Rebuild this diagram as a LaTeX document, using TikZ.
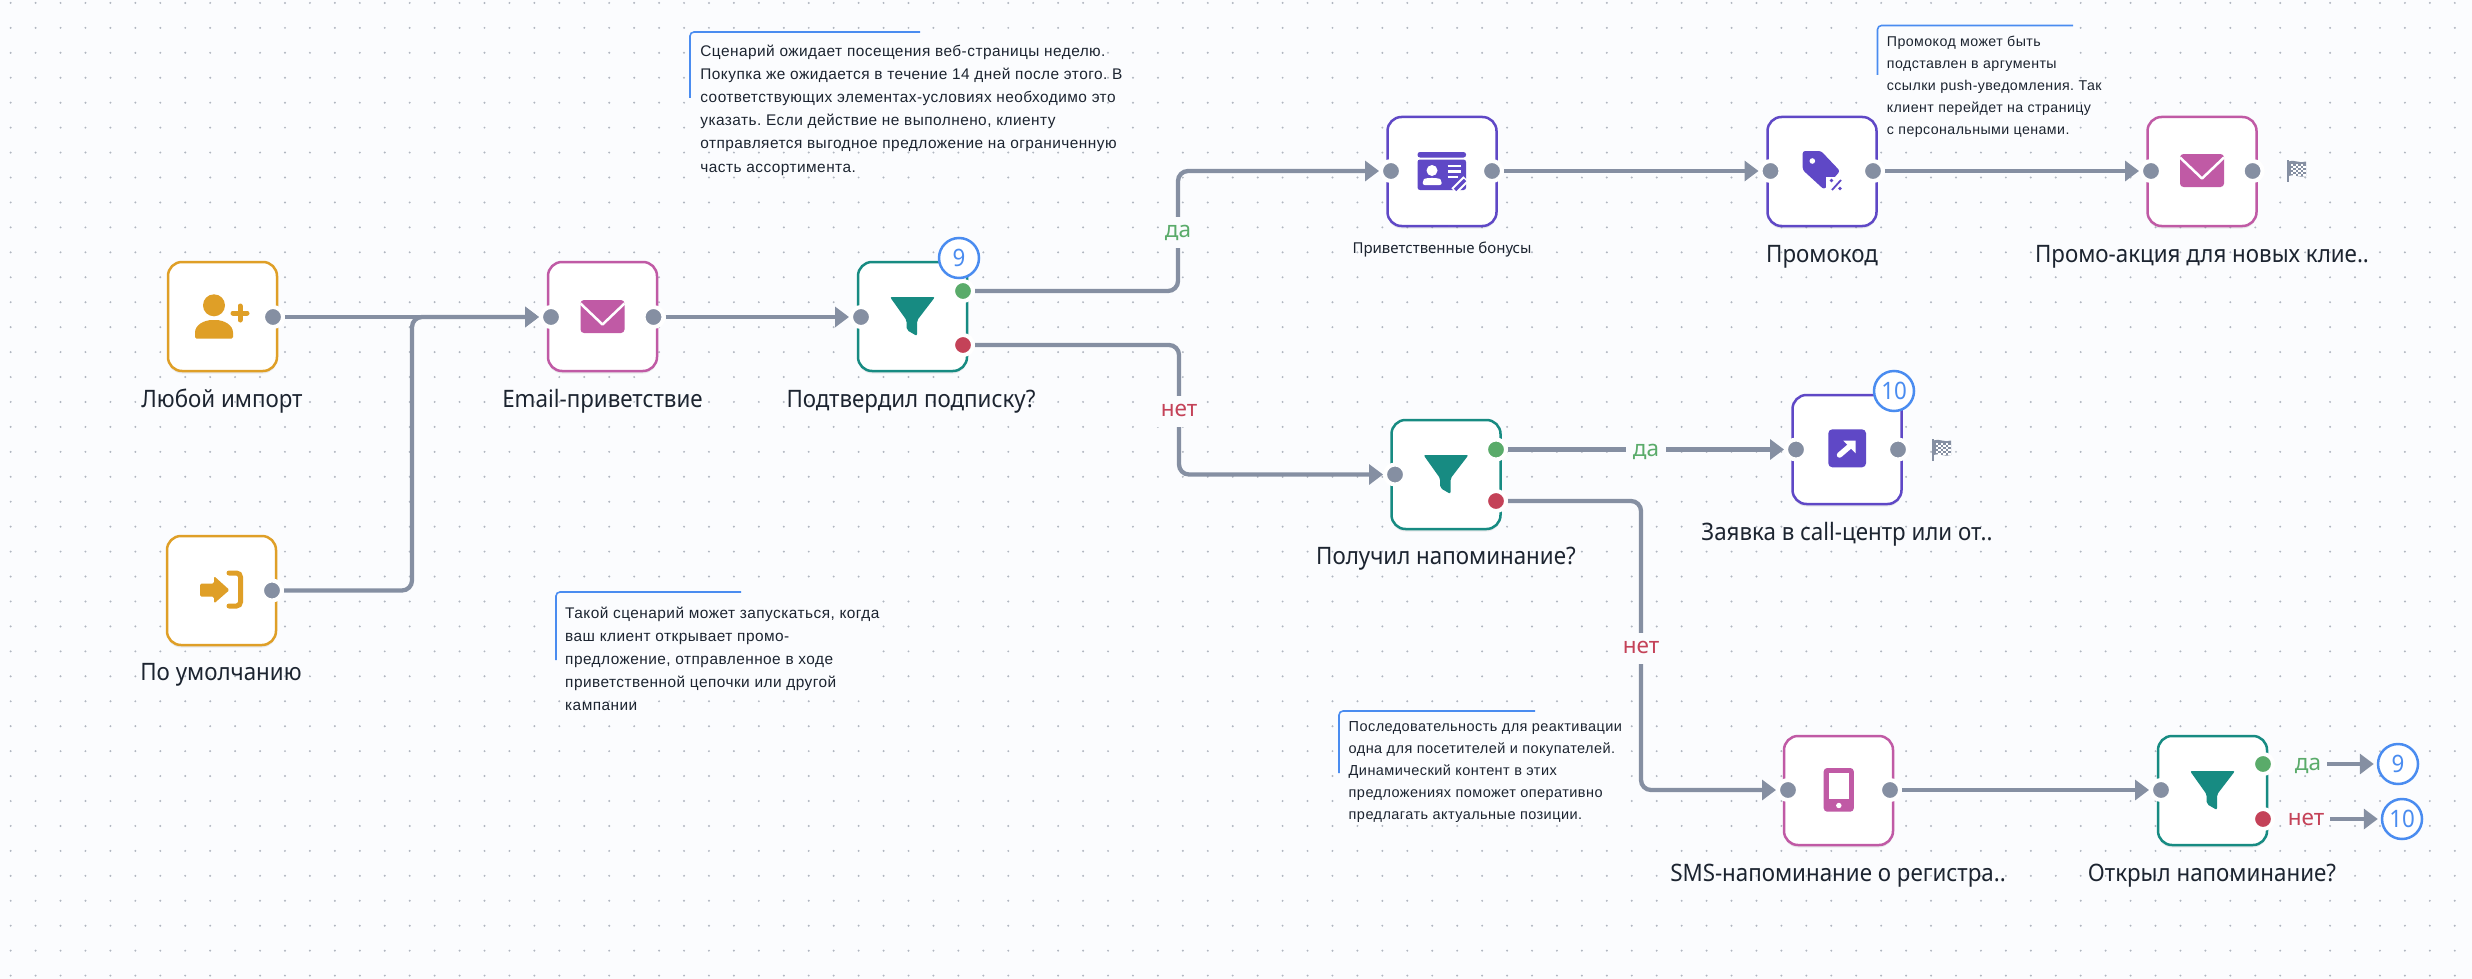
\documentclass[tikz,border=0pt]{standalone}
\usepackage{fontspec}
\setmainfont{Noto Sans}
\newfontfamily\labfont[FakeStretch=0.93]{Noto Sans}
\newfontfamily\notefont[LetterSpace=3]{Liberation Sans}
\usetikzlibrary{arrows.meta,shadows}
\definecolor{bgc}{HTML}{FBFCFE}
\definecolor{dotc}{HTML}{B0B6C0}
\definecolor{linec}{HTML}{858FA2}
\definecolor{orangec}{HTML}{DF9F27}
\definecolor{magc}{HTML}{C05AA5}
\definecolor{tealc}{HTML}{178B82}
\definecolor{purc}{HTML}{5F48C6}
\definecolor{bluec}{HTML}{4A8CF0}
\definecolor{greenc}{HTML}{5AAB6A}
\definecolor{redc}{HTML}{C44258}
\definecolor{txtc}{HTML}{1C2430}
\tikzset{
  box/.style={draw=#1,line width=2.5pt,fill=white,rounded corners=14pt,minimum width=109pt,minimum height=109pt,inner sep=0pt,
    general shadow={shadow yshift=-2.5pt,opacity=.07,fill=black}},
  port/.style={circle,fill=#1,draw=white,line width=4pt,minimum size=20pt,inner sep=0pt,outer sep=2pt},
  conn/.style={draw=linec,line width=4.3pt,rounded corners=10pt},
  arr/.style={conn,-{Triangle[length=14pt,width=20pt]}},
  lab/.style={font=\labfont\fontsize{24}{28}\selectfont,text=txtc,anchor=base,inner sep=0pt},
  smalllab/.style={font=\fontsize{15}{18}\selectfont,text=txtc,anchor=base,inner sep=0pt},
  cond/.style={font=\fontsize{22.5}{26}\selectfont,text=#1,fill=bgc,inner xsep=6pt,inner ysep=7pt,text height=14pt,text depth=3pt},
  badge/.style={circle,draw=bluec,line width=2.5pt,fill=white,minimum size=40pt,inner sep=0pt,text=bluec,font=\labfont\fontsize{24}{26}\selectfont},
  notetext/.style 2 args={font=\notefont\fontsize{#2}{#1}\selectfont\frenchspacing,text=txtc,align=left,anchor=north west,inner sep=0pt},
  notemark/.style={draw=bluec,line width=1.6pt,rounded corners=4pt},
  envelope/.pic={
    \fill[magc,rounded corners=3.5pt] (-22,-16.5) rectangle (22,16.5);
    \draw[white,line width=2.5pt,line join=round] (-22,-13) -- (0,8) -- (22,-13);
  },
  funnel/.pic={
    \fill[tealc,rounded corners=2pt] (-22.5,-19.5) -- (22.5,-19.5) -- (4.5,4) -- (4.5,19.5) -- (-5.8,13.5) -- (-5.8,4) -- cycle;
  },
  flagicon/.pic={
    \draw[linec,line width=2.4pt] (-9,-11) -- (-9,11);
    \fill[linec] (-9,-9.5) .. controls (-3,-12) and (3,-7) .. (9,-9.5) -- (9,5) .. controls (3,7.5) and (-3,2.5) .. (-9,5) -- cycle;
    \foreach \i in {0,1,2}{\foreach \j in {0,1,2}{
      \fill[white] (-6.2+\i*5+\j*0,-7.5+\j*4.2+\i*0) rectangle ++(2.5,2.1);
      \fill[white] (-3.7+\i*5,-5.4+\j*4.2) rectangle ++(2.5,2.1);}}
  }
}
\begin{document}
\begin{tikzpicture}[x=1pt,y=-1pt]
\useasboundingbox (0,0) rectangle (2472,979);
\fill[bgc] (0,0) rectangle (2472,979);
% dot grid
\foreach \i in {0,...,99}{\foreach \j in {0,...,39}{
  \fill[dotc] ({10.65+\i*24.94},{2.93+\j*24.94}) circle[radius=1.1pt];}}
% areas of the notes
\fill[bgc] (690,32) rectangle (1100,145);
\fill[bgc] (556,592) rectangle (880,690);
\fill[bgc] (1877,25) rectangle (2073,135);
\fill[bgc] (1339,711) rectangle (1620,813);

% boxes
\node[box=orangec] (A) at (222.5,316.5) {};
\node[box=orangec] (B) at (221.5,590.5) {};
\node[box=magc] (C) at (602.5,316.5) {};
\node[box=tealc] (D) at (912.5,316.5) {};
\node[box=purc] (E) at (1442,171.5) {};
\node[box=purc] (F) at (1822,171.5) {};
\node[box=magc] (G) at (2202,171.5) {};
\node[box=tealc] (H) at (1446,474.5) {};
\node[box=purc] (I) at (1847,449.5) {};
\node[box=magc] (J) at (1838.5,790.5) {};
\node[box=tealc] (K) at (2212.5,790.5) {};

% icons
\fill[orangec] (214,305.3) circle[radius=11];
\fill[orangec,rounded corners=1.5pt] (195,338.5) -- (195,334) .. controls (195,325) and (204,320) .. (214,320) .. controls (224,320) and (233,325) .. (233,334) -- (233,338.5) -- cycle;
\draw[orangec,line width=5pt,line cap=round] (233,313) -- (247,313) (240,306) -- (240,320);
\fill[orangec,rounded corners=1.5pt] (200,583.5) -- (214,583.5) -- (214,576) -- (229.5,590) -- (214,603.5) -- (214,596.5) -- (200,596.5) -- cycle;
\draw[orangec,line width=5pt,rounded corners=4pt,line cap=round] (229,573) -- (240.5,573) -- (240.5,606) -- (229,606);
\pic at (602.5,316.5) {envelope};
\pic at (912.5,316.5) {funnel};
\pic at (1446,474.5) {funnel};
\pic at (2212.5,790.5) {funnel};
% card
\fill[purc,rounded corners=2.5pt] (1417.5,157.5) -- (1417.5,152) -- (1466,152) -- (1466,157.5) -- cycle;
\fill[purc,rounded corners=2.5pt] (1417.5,159.5) rectangle (1466,190);
\fill[white] (1432,170.5) circle[radius=5.5];
\fill[white,rounded corners=2pt] (1422.7,185) -- (1422.7,181) .. controls (1425,177.5) and (1439,177.5) .. (1441.7,181) -- (1441.7,185) -- cycle;
\draw[white,line width=2.6pt] (1447.7,166) -- (1460.7,166) (1447.7,171.7) -- (1460.7,171.7) (1447.7,177) -- (1458,177);
\draw[white,line width=7.5pt] (1454,191) -- (1466,179);
\draw[purc,line width=3.5pt] (1455,190) -- (1465,180);
% tag
\fill[purc,rounded corners=2.5pt] (1802.7,151) -- (1821,151) -- (1840,171) -- (1824,189.5) -- (1802.7,170) -- cycle;
\fill[white] (1812.3,161) circle[radius=2.8];
\fill[white] (1826,177) rectangle (1845,195);
\draw[purc,line width=1.8pt] (1832,190) -- (1841,180);
\fill[purc] (1831.5,180.5) circle[radius=1.8] (1840,188.5) circle[radius=1.8];
\pic at (2202,170.5) {envelope};
% link
\fill[purc,rounded corners=4pt] (1828.3,429.3) rectangle (1866,467.3);
\fill[white] (1843.3,440.7) -- (1855.7,440.7) -- (1855.7,453.3) -- cycle;
\draw[white,line width=5.5pt,line cap=round] (1839.5,455) -- (1850,446);
% phone
\fill[magc,rounded corners=3.5pt] (1823.7,768) rectangle (1853.8,811.7);
\fill[white] (1828.5,772.7) rectangle (1848.7,799);
\fill[white] (1838.8,805.5) circle[radius=2.7];
% finish flags
\pic at (2297,171) {flagicon};
\pic at (1942,450) {flagicon};

% ports
\node[port=linec] (Aout) at (273,317) {};
\node[port=linec] (Bout) at (272,590.5) {};
\node[port=linec] (Cin) at (551,317) {};
\node[port=linec] (Cout) at (653.5,317) {};
\node[port=linec] (Din) at (861,317) {};
\node[port=greenc] (Dyes) at (963,291) {};
\node[port=redc] (Dno) at (963,345) {};
\node[port=linec] (Ein) at (1391,171) {};
\node[port=linec] (Eout) at (1492,171) {};
\node[port=linec] (Fin) at (1770.5,171) {};
\node[port=linec] (Fout) at (1873,171) {};
\node[port=linec] (Gin) at (2151,171) {};
\node[port=linec] (Gout) at (2252.6,171) {};
\node[port=linec] (Hin) at (1395,474.5) {};
\node[port=greenc] (Hyes) at (1496,449.5) {};
\node[port=redc] (Hno) at (1496,501) {};
\node[port=linec] (Iin) at (1796,449.5) {};
\node[port=linec] (Iout) at (1898,449.5) {};
\node[port=linec] (Jin) at (1788,790) {};
\node[port=linec] (Jout) at (1890,790) {};
\node[port=linec] (Kin) at (2161,790) {};
\node[port=greenc] (Kyes) at (2263,764) {};
\node[port=redc] (Kno) at (2263,819) {};

% connectors
\coordinate (bendB) at (412,450);
\coordinate (bendDy) at (1178,232);
\coordinate (bendDn) at (1179,411);
\coordinate (bendHn) at (1641,648);
\draw[arr] (Aout.east) -- (Cin.west);
\draw[arr] (Bout.east) -| (bendB) |- (Cin.west);
\draw[arr] (Cout.east) -- (Din.west);
\draw[arr] (Dyes.east) -| (bendDy) |- (Ein.west);
\draw[arr] (Dno.east) -| (bendDn) |- (Hin.west);
\draw[arr] (Eout.east) -- (Fin.west);
\draw[arr] (Fout.east) -- (Gin.west);
\draw[arr] (Hyes.east) -- (Iin.west);
\draw[arr] (Hno.east) -| (bendHn) |- (Jin.west);
\draw[arr] (Jout.east) -- (Kin.west);

% condition labels
\node[cond=greenc] (yesD) at (1178,232) {да};
\node[cond=redc] (noD) at (1179,411) {нет};
\node[cond=greenc,inner xsep=7pt] (yesH) at (1646,451) {да};
\node[cond=redc] (noH) at (1641,648) {нет};
\node[cond=greenc,fill=none,inner xsep=6pt] (yesK) at (2308,765) {да};
\node[cond=redc,fill=none,inner xsep=6pt] (noK) at (2306,820) {нет};

% badges
\node[badge] (b9a) at (959,258) {9};
\node[badge] (b10a) at (1894,391) {10};
\node[badge] (b9b) at (2398,764) {9};
\node[badge] (b10b) at (2402,819) {10};
\draw[arr,shorten >=3pt] (yesK.east |- b9b.west) -- (b9b.west);
\draw[arr,shorten >=3pt] (noK.east |- b10b.west) -- (b10b.west);

% node labels
\node[lab] (lA) at (222,407) {Любой импорт};
\node[lab] (lB) at (221,680) {По умолчанию};
\node[lab] (lC) at (602.5,407) {Email-приветствие};
\node[lab] (lD) at (911,407) {Подтвердил подписку?};
\node[smalllab] (lE) at (1442,253) {Приветственные бонусы};
\node[lab] (lF) at (1822,262) {Промокод};
\node[lab] (lG) at (2202,262) {Промо-акция для новых клие..};
\node[lab] (lH) at (1446,564) {Получил напоминание?};
\node[lab] (lI) at (1847,540) {Заявка в call-центр или от..};
\node[lab] (lJ) at (1838,881) {SMS-напоминание о регистра..};
\node[lab] (lK) at (2212,881) {Открыл напоминание?};

% notes
\draw[notemark] (690,98) -- (690,32) -- (920,32);
\node[notetext={23.2}{15.4}] (n1) at (700.2,44.5) {Сценарий ожидает посещения веб-страницы неделю.\\Покупка же ожидается в течение 14 дней после этого. В\\соответствующих элементах-условиях необходимо это\\указать. Если действие не выполнено, клиенту\\отправляется выгодное предложение на ограниченную\\часть ассортимента.};
\draw[notemark] (556,660) -- (556,592) -- (741,592);
\node[notetext={22.9}{15.4}] (n2) at (565,607) {Такой сценарий может запускаться, когда\\ваш клиент открывает промо-\\предложение, отправленное в ходе\\приветственной цепочки или другой\\кампании};
\draw[notemark] (1877.5,75) -- (1877.5,25.5) -- (2073,25.5);
\node[notetext={22.2}{14.2}] (n3) at (1886.7,35.5) {Промокод может быть\\подставлен в аргументы\\ссылки push-уведомления. Так\\клиент перейдет на страницу\\с персональными ценами.};
\draw[notemark] (1339,773) -- (1339,711) -- (1535,711);
\node[notetext={22}{14.5}] (n4) at (1348.5,721) {Последовательность для реактивации\\одна для посетителей и покупателей.\\Динамический контент в этих\\предложениях поможет оперативно\\предлагать актуальные позиции.};
\end{tikzpicture}
\end{document}
